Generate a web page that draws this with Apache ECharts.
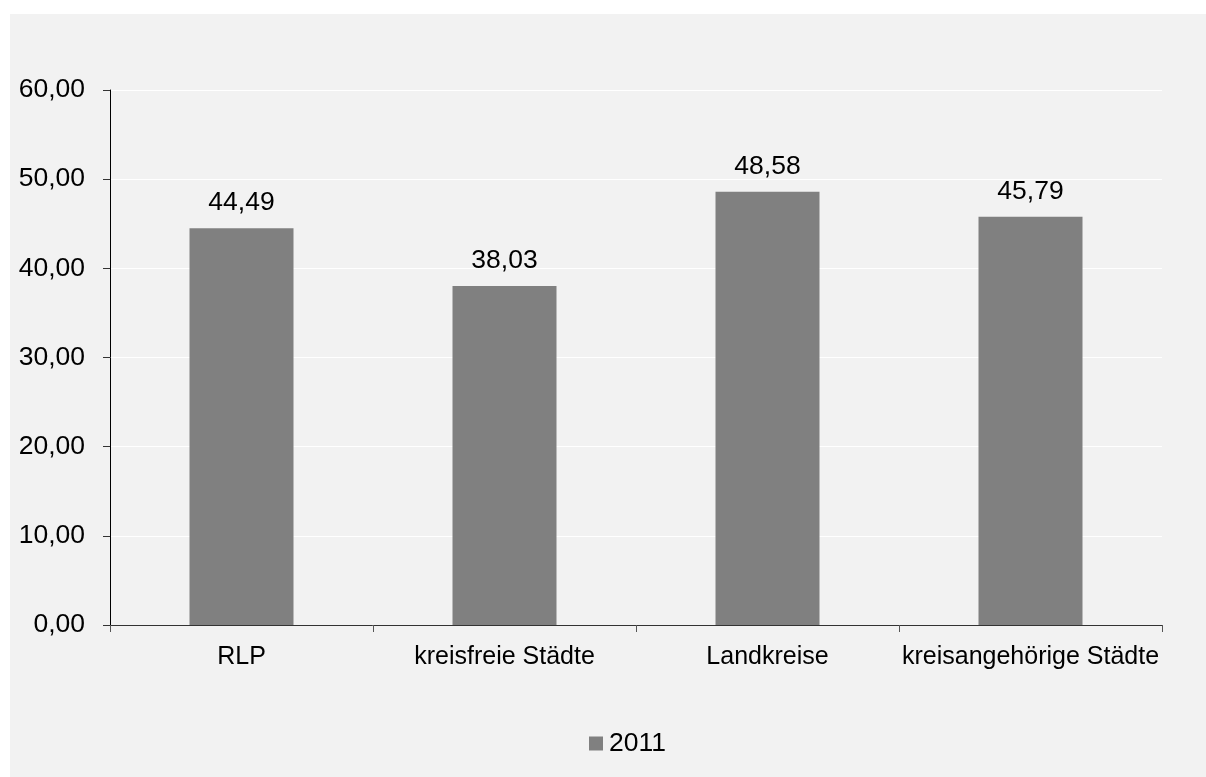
<!DOCTYPE html>
<html>
<head>
<meta charset="utf-8">
<script src="https://cdn.jsdelivr.net/npm/echarts@6/dist/echarts.min.js"></script>
<style>
html,body{margin:0;padding:0;background:#ffffff;width:1206px;height:777px;overflow:hidden;}
#c{position:absolute;left:10px;top:14px;width:1196px;height:763px;background:#f2f2f2;}
</style>
</head>
<body>
<div id="c"></div>
<script>
const categories = ['RLP', 'kreisfreie Städte', 'Landkreise', 'kreisangehörige Städte'];
const values2011 = [44.49, 38.03, 48.58, 45.79];
const seriesName = '2011';
const yMin = 0, yMax = 60, yStep = 10;

const fmt = v => Number(v).toFixed(2).replace('.', ',');
const FONT = '"Liberation Sans", Arial, sans-serif';

const chart = echarts.init(document.getElementById('c'), null, {renderer: 'canvas'});
chart.setOption({
  backgroundColor: '#f2f2f2',
  animation: false,
  textStyle: {fontFamily: FONT},
  grid: {left: 100, right: 44, top: 76, bottom: 152, containLabel: false},
  legend: {
    data: [seriesName],
    bottom: 20,
    left: 579,
    padding: 0,
    itemWidth: 14,
    itemHeight: 14,
    itemGap: 6,
    icon: 'rect',
    textStyle: {fontFamily: FONT, fontSize: 26.5, color: '#000', padding: [0, 0, 0, 1]}
  },
  xAxis: {
    type: 'category',
    data: categories,
    axisLine: {lineStyle: {color: '#333', width: 1}},
    axisTick: {show: true, length: 7, lineStyle: {color: '#555'}},
    axisLabel: {fontFamily: FONT, fontSize: 25, color: '#000', margin: 20, interval: 0}
  },
  yAxis: {
    type: 'value',
    min: yMin, max: yMax, interval: yStep,
    axisLine: {show: true, lineStyle: {color: '#000', width: 1}},
    axisTick: {show: true, length: 7, lineStyle: {color: '#333'}},
    axisLabel: {fontFamily: FONT, fontSize: 26.5, color: '#000', margin: 25, formatter: v => fmt(v)},
    splitLine: {show: true, lineStyle: {color: '#ffffff', width: 1}}
  },
  series: [{
    name: seriesName,
    type: 'bar',
    data: values2011,
    barWidth: 104,
    itemStyle: {color: '#808080'},
    label: {
      show: true, position: 'top', distance: 12,
      fontFamily: FONT, fontSize: 26.5, color: '#000',
      formatter: p => fmt(p.value)
    }
  }]
});
</script>
</body>
</html>
